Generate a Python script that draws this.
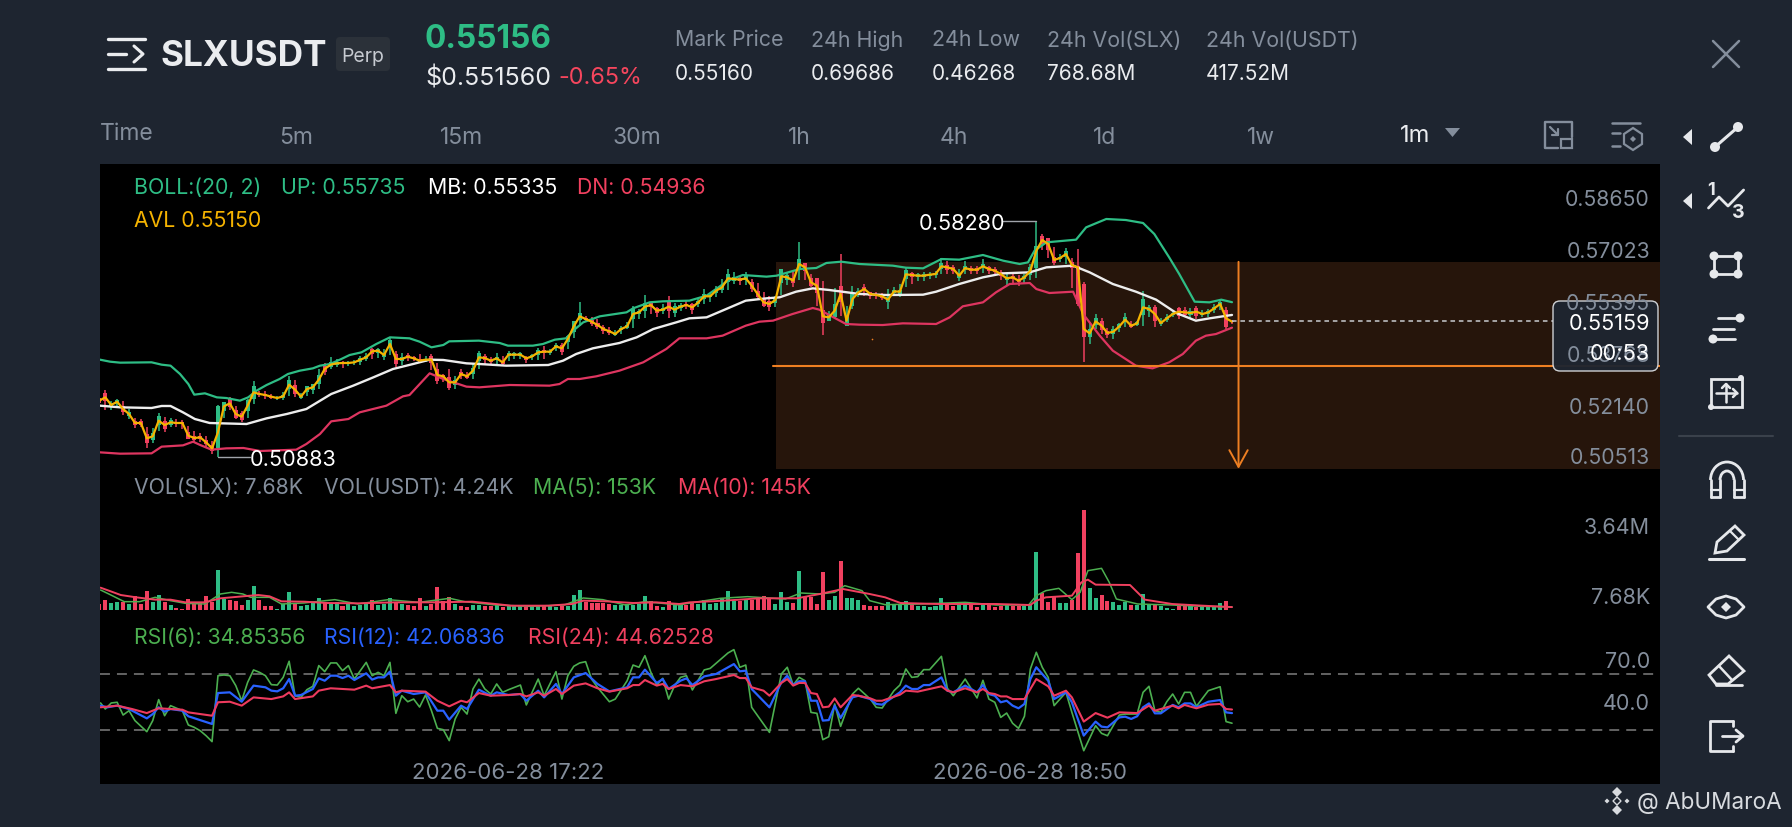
import numpy as np, pandas as pd, seaborn as sns
import matplotlib
matplotlib.use("Agg")
import matplotlib.pyplot as plt
from matplotlib.patches import Rectangle, Circle, FancyBboxPatch, Polygon, Arc

sns.set_theme(style="dark")
plt.rcParams['font.family'] = ['Inter', 'DejaVu Sans']

PAGE = '#1E2530'; GREEN = '#2EBD85'; RED = '#F0405F'; GREY = '#848E9C'; WHITE = '#EAECEF'
GOLD = '#F5B300'; ORANGE = '#EE7F22'; LGREEN = '#4CAF50'; BLUE = '#2962FF'

# ---------- candle data: index -1..190 ----------
avl = [.52648,.52752,.52512,.52616,.52386,.52230,.51948,.51948,.51467,.51530,.52021,.51885,.51968,.51948,.51948,.51550,
.51477,.51498,.51341,.51153,.51655,.52470,.52564,.52230,.52146,.52491,.52909,.52857,.52825,.52773,.52731,.52784,.53149,
.52993,.52773,.53014,.53066,.53306,.53640,.53776,.53818,.53829,.53829,.53850,.53933,.54006,.54194,.54215,.54079,.54424,
.53954,.53954,.54027,.53975,.53902,.53933,.53933,.53452,.53411,.53222,.53222,.53484,.53411,.53588,.54006,
.53985,.53902,.53975,.53849,.54090,.54090,.54090,.53975,.54038,.54163,.54184,.54184,.54351,.54288,.54581,.54978,.55292,
.55208,.55124,.55020,.54894,.54821,.54738,.54894,.54978,.55365,.55417,.55595,.55647,.55469,.55501,.55595,.55501,.55595,
.55647,.55574,.55731,.55919,.55919,.56096,.56201,.56483,.56462,.56441,.56483,.56253,.55992,.55731,.55678,.55804,.56546,
.56514,.56410,.56932,.56828,.56358,.56253,.55292,.55260,.55469,.55992,.55156,.55835,
.56044,.56148,.55991,.55960,.55918,.55814,.56075,.56064,.56608,.56587,.56566,.56566,.56597,.56618,.56859,.56827,.56775,
.56566,.56806,.56754,.56754,.56859,.56775,.56723,.56618,.56482,.56514,.56409,.56514,.56723,.57350,.57684,.57559,.57057,
.57120,.57245,.56900,.56827,.54894,.54758,.55134,.54998,.54769,.54810,.54978,.55187,.54998,.55072,.55573,.55521,.55364,
.55082,.55228,.55364,.55437,.55416,.55396,.55437,.55364,.55416,.55542,.55678,.55228,.55124]
body = [-15,
-25,15,12,-20,15,-15,-10,-30,22,30, -22,15,-8,-8,-20,-10,-10,-12,-18,125, 30,-25,-25,-20,35,40,-8,-8,-6,3,
10,30,-30,6,20,18,30,-20,15,10, -8,6,5,12,10,-15,12,10,25,-30, 12,-8,-6,-8,5,-20,-40,-10,-35,15,
-10,-8,18,25,-10,-8,8,-10,10,8, 8,-8,6,15,-8,6,8,-20,20,35, 20,-6,-12,-10,-12,-8,6,8,8,30,
10,25,-15,-15,10,-30,20,10,-5,-18, 10,15,6,12,15,25,12,-10,12,-20, -20,-20,-18,18,45,15,-15,30,-25,-25,
-45,-40,20,40,-50,35,45,10,-15,-10, -8,-8,15,10,12,30,-15,8,8,6, 8,18,-15,-10,15,15,-8,-8,12,-10,
-8,-12,10,-8,-10,8,25,60,-25,-35, -20,8,20,-20,-110,-100,25,20,-30,-15, 15,12,15,-10,8,50,12,-45,8,8,
8,-25,-15,12,-25,8,10,8,12,-55, -3]
wick_up = [12,
23,13,8,25,15,17,12,36,27,23, 26,15,12,9,30,22,15,20,23,82, 10,21,25,18,20,35,10,13,8,7,
14,27,30,13,10,10,32,20,24,15, 7,7,8,12,15,9,7,18,20,25, 20,13,8,22,12,19,38,7,42,20,
15,12,20,20,12,13,16,20,12,7, 9,8,7,15,18,8,12,16,12,12, 45,8,16,18,12,15,13,8,14,25,
10,38,8,10,17,33,22,13,13,13, 12,22,7,15,25,30,22,12,20,20, 35,32,25,13,22,15,30,70,10,25,
15,110,20,70,125,45,40,15,15,7, 8,10,32,15,23,21,8,8,10,7, 10,27,20,12,20,22,12,12,24,10,
10,12,13,10,17,10,20,90,18,20, 41,12,20,23,55,10,35,22,25,17, 18,12,20,15,8,50,12,27,17,13,
10,16,18,17,18,13,12,13,17,36, 5]
wick_dn = [12,
40,17,14,18,15,16,13,30,20,33, 22,15,13,18,8,11,15,15,17,75, 38,22,15,17,38,38,10,12,7,5,
10,35,23,7,22,20,30,20,13,12, 16,8,8,16,13,23,23,17,33,25, 20,15,7,5,6,33,27,18,23,20,
17,8,25,35,18,10,17,10,21,15, 15,14,13,25,22,12,16,22,30,38, 30,10,14,14,15,11,7,15,8,43,
20,35,27,20,13,37,23,15,12,20, 15,23,18,20,17,37,15,16,22,20, 15,15,23,22,60,25,20,50,40,15,
65,60,10,25,70,8,30,15,22,15, 12,13,28,15,17,39,27,18,18,13, 13,23,20,15,18,18,13,13,20,15,
10,20,24,17,17,17,30,45,32,45, 17,13,30,72,115,100,32,23,25,16, 22,18,23,8,9,57,25,40,8,12,
10,22,15,16,22,10,15,14,20,34, 7]
# large candles read directly as open, high, low, close
big_candles = {19:(.51153,.52512,.50883,.52491), 157:(.56800,.58280,.56500,.57500),
               164:(.56880,.57402,.55625,.55678), 165:(.56305,.56357,.53849,.54633)}
volume_k = [300,
498,349,415,415,299,714,299,930,415,747, 415,249,100,50,548,349,349,681,415,2009, 548,515,465,249,515,1212,515,216,183,50,
299,913,299,183,249,382,598,349,349,415, 216,299,183,249,299,498,249,299,581,349, 299,249,216,581,183,299,1145,465,664,299,
183,166,249,249,216,183,249,133,183,183, 183,133,183,216,183,216,133,183,216,747, 996,382,349,349,349,315,249,249,299,249,
299,681,465,216,133,465,249,249,249,415, 299,515,299,349,581,930,465,465,515,515, 548,681,548,299,880,415,349,1926,631,631,
299,1876,515,714,2424,581,581,515,266,216, 183,216,382,266,299,465,299,216,183,149, 183,581,299,183,249,382,249,133,249,299,
133,216,249,216,216,183,249,2872,847,382, 631,349,349,515,2822,4980,1079,581,764,465, 415,249,415,249,249,797,299,249,183,100,
50,199,183,183,133,133,133,133,332,448, 8]

# ---------- Bollinger bands ----------
up_t = [-.9,.8,2.5,7.8,9.5,11,12.6,14,15,16.8,18.8,20.4,22.7,24.1,25.5,27.2,29.4,30.8,32.8,35,36.2,37.9,39.8,41.2,43.2,45.7,48,51.3,53,55,57,58,63,
66.5,67.9,72.1,73.8,75.8,77.7,79.1,80.6,83.4,87.9,89,91.8,94,98.5,101.4,105,107.5,111.5,113.2,117.1,119.9,121.6,124.1,127.2,
132.8,135,137.9,141,144,148,151.4,154.2,155.6,156.7,158.7,163.7,165.4,168.8,172.1,175,176.9,179.4,181.1,183.7,186.2,188.2,190]
up_v = [.53933,.53870,.53839,.53850,.53776,.53745,.53484,.53170,.52836,.52878,.52752,.52731,.52648,.52752,.52961,.53139,.53327,.53484,.53588,.53661,.53745,.53797,.53954,.54079,.54163,.54424,.54633,.54602,.54497,.54320,.54393,.54508,.54529,
.54456,.54372,.54372,.54424,.54560,.54602,.54874,.55104,.55292,.55417,.55542,.55731,.55762,.55783,.55940,.56410,.56587,.56535,.56566,.56775,.56807,.56964,.57005,.56932,
.56880,.56817,.56796,.57088,.57068,.57214,.57036,.56932,.56984,.57350,.57611,.57695,.58081,.58343,.58311,.58217,.57872,.57141,.56618,.55751,.55730,.55814,.55735]
mb_t = [-.9,2.5,7.8,9.5,11,13.1,15.1,17.6,23.8,27.2,30.6,33.9,38.1,41.8,45.2,48.5,51.9,54.7,57,60.9,63.1,
67.6,74.7,77.2,79.4,82.2,86.7,89.6,92.4,96.3,98.5,101.4,104.7,108,111.5,113.7,116.5,119.3,122.1,127.2,
131.7,137.9,140.1,144,148,151.4,155.9,158.7,163.2,166,169.9,173.8,177.2,180.6,183.9,186.2,190]
mb_v = [.52491,.52439,.52418,.52481,.52481,.52282,.52073,.51948,.51916,.52094,.52230,.52386,.52857,.53118,.53379,.53640,.53797,.53933,.53923,.53818,.53797,
.53745,.53766,.53902,.54111,.54288,.54456,.54633,.54894,.55104,.55229,.55260,.55521,.55783,.55856,.55887,.56065,.56169,.56117,.55992,
.55960,.55970,.56064,.56305,.56514,.56639,.56671,.56827,.56880,.56670,.56305,.56064,.55814,.55396,.55155,.55228,.55335]
dn_t = [-.9,2.5,7.8,9.5,13.1,14.8,16,17.9,20.4,23.3,26.1,32.2,33.9,36.2,38.1,41,42.9,47.4,50.2,51.3,54.7,57,60.9,63.1,
68.2,74.9,76.6,78,80,82.8,86.7,90.7,94.6,96.8,101.4,104.1,108,110.3,112.6,115.9,119.3,120.4,124.9,127.2,
131.1,134.5,140.1,142.4,144.6,148,150.2,152.5,155.9,157,159.2,163.2,164.9,167.7,169.9,173.8,176.6,179.4,181.7,183.9,185.6,187.3,190]
dn_v = [.51028,.50986,.50997,.51206,.51247,.51362,.51258,.51112,.51153,.51164,.51070,.51112,.51289,.51603,.52000,.52073,.52282,.52491,.52784,.52825,.53505,.53327,.53087,.53066,
.53139,.53118,.53170,.53327,.53327,.53411,.53588,.53849,.54268,.54602,.54602,.54686,.54999,.55124,.55156,.55365,.55553,.55501,.55051,.55030,
.55019,.55072,.55051,.55260,.55605,.55730,.56044,.56305,.56336,.56148,.56023,.56064,.55364,.54685,.54215,.53744,.53661,.53849,.54110,.54528,.54685,.54737,.54936]

# ---------- volume moving averages (K) ----------
ma10_t = [-.8,.6,2.6,5.2,8.4,11,13.5,16.8,19.4,23.2,25.8,27.7,29.7,33.5,37.4,42.6,49,55.5,61.9,65.8,68.4,74.8,78.7,80.6,84.5,89,92.9,96.8,
98.6,104.4,110.2,116.6,120.5,124.4,128.9,131.5,134.1,140.5,150.2,156,157,158.6,163,164.6,165.7,167,172.8,175.3,179.9,185,190]
ma10_v = [1112,963,747,631,515,515,382,382,581,681,747,681,432,415,349,332,382,382,415,299,216,216,299,465,432,349,382,299,
382,465,581,581,797,1046,797,631,349,299,299,249,465,631,714,1378,1511,1262,1245,515,299,216,145]
ma5_t = [-.8,.6,3.2,5.8,8.4,11,13.5,16.8,19.4,21.3,23.2,24.5,27.7,29.7,33.5,38.7,42.6,47.7,52.9,58.1,60.6,65.8,71.6,77.4,80.6,83.9,87.7,91,96.8,
98.6,103.7,108.3,114.7,117.3,120.5,123,124.7,127.6,128.9,131.5,137.3,145,150.2,155.7,157,158.6,160.8,163,164.4,165.7,168,169.3,170.5,174.1,179.9,185,190]
ma5_v = [996,797,415,415,631,465,332,299,797,880,797,631,631,299,349,515,299,515,382,581,415,249,183,249,598,515,249,415,249,
349,581,664,548,847,797,880,1212,963,465,266,299,382,249,249,714,963,1079,515,880,1959,2075,1378,548,299,249,183,153]

# ---------- RSI ----------
rsi6_t = [-.8,0,1,2,3,4,5,7,8,9,10,11,13,14,15,16,17,18,19,20,21,22,23,24,25,26,27,28,29,30,31,32,33,34,35,36,37,38,39,40,41,42,44,45,46,47,48,49,50,51,52,53,54,55,56,57,58,59,60,61,62,63,64,65,66,67,68,70,71,73,74,76,77,78,79,80,81,82,83,85,86,88,89,90,91,92,93,94,95,96,97,98,
99,101,102,105,106,107,108,109,112,114,115,116,117,118,119,120,121,122,123,124,126,127,129,130,131,133,134,135,136,137,138,139,141,142,143,145,147,148,149,150,151,152,153,154,155,156,157,158,159,160,162,163,165,167,168,169,171,172,174,175,176,177,178,179,180,181,182,183,184,186,188,189,190]
rsi6_v = [49.3,45,49.3,49.8,40.7,43.8,36.7,28.8,36.7,51.7,40.2,47.4,43.8,33.6,31.9,29.5,25.9,21.7,68.8,69.3,68.8,61.7,50.9,64,72.9,71.2,68.8,62.4,62.1,67.6,79.1,54.5,53.3,58.8,61.2,76,71.7,77.9,77.9,72.4,76,66.4,78.3,68.8,71.2,68.8,78.3,41.9,54.5,50.2,52.1,46.4,55,43.8,31.2,30.2,22.4,37.9,46.2,41.4,59.3,66.4,59.3,55.7,62.9,56.9,58.8,62.1,47.9,66.4,54.5,71.7,52.1,68.8,75.5,77.9,78.8,66.4,60.5,50.2,52.1,65.2,76.4,74.8,83.1,71.2,62.1,66.9,52.1,61.7,67.6,68.8,
58.6,72.9,74,85,87.4,74.8,76.4,46.2,28.3,70,74.8,62.1,67.6,65.2,42.6,41.9,23.1,25.2,48.6,32.6,55.7,59.8,52.1,46.2,45.7,58.1,62.1,73.6,67.6,68.1,73.1,73.1,82.6,59.8,54.5,66.4,52.9,65.5,52.1,49.8,39,42.1,34.8,31.2,39.8,73.6,85.5,74.8,67.6,47.4,56.9,42.6,15.2,33.1,27.6,25.9,40.7,41.4,41.4,56.9,61.2,43.8,42.6,50.2,55.7,48.6,56.9,56.9,46.9,58.1,60.9,36,34.85]
rsi12_t = [-.8,.3,2,4,7,8,9,10,11,13,14,18,19,21,23,25,27,28,29,30,31,32,33,35,36,37,38,39,40,41,42,44,45,46,47,48,49,50,52,54,56,57,58,60,61,63,65,66,68,70,71,73,74,76,77,79,81,83,85,88,89,90,91,93,94,95,97,98,
99,101,103,106,107,108,109,112,114,115,116,117,118,119,120,121,122,123,124,126,127,129,130,131,134,135,136,137,138,139,141,142,143,145,147,148,149,150,151,152,153,154,155,156,157,158,159,160,162,163,165,167,168,169,171,172,173,174,175,176,177,178,180,181,182,183,184,186,188,189,190]
rsi12_v = [47.4,46.2,47.4,45,38.3,41.4,46.2,43.1,45,43.8,39.8,34.3,56.4,56.9,50.2,61.7,60.5,58.1,57.6,59.8,66.4,54.5,55,59.3,66.9,65.2,68.8,68.8,67.1,68.8,65.7,70.5,66,67.6,67.6,71.7,54.5,58.1,55.7,56.9,43.8,43.8,37.4,47.4,45,58.8,54.5,56.9,55,55.7,50.9,58.1,53.3,62.9,55.7,67.6,70.7,62.9,57.6,60.5,67.6,67.6,73.1,63.6,66.4,59.3,65.2,66.9,
62.1,68.3,70,77.1,71.9,72.4,59.3,46.2,64,68.8,62.1,64.8,64.8,50.9,50.9,36.7,37.1,47.4,38.6,53.3,54.5,52.1,48.6,48.1,56.9,61.7,59.3,59.3,62.1,62.1,67.6,58.1,56.9,61.7,56.9,62.1,55.7,54.5,49.8,50.9,47.4,45.5,48.6,66.4,74.8,70,65.2,52.1,56.9,49.8,26,36,32.4,31.9,39,39.5,37.9,39.8,46.2,49,41.9,41.9,47.9,46.2,49,49,46.2,50.2,51.4,42.6,42.07]
rsi24_t = [-.8,2,4.5,7,9,11,13,14,18,19,21,23,25,28,30,31,32,35,36,38,42,44,45,48,49,50,54,56,58,60,61,63,65,68,70,71,73,74,76,77,79,81,83,85,88,89,90,91,93,94,95,97,
99,101,103,106,107,108,109,111,112,114,115,116,117,118,119,120,121,122,123,124,126,127,129,130,131,134,135,137,141,142,143,145,147,148,149,150,151,152,153,155,156,157,159,160,162,163,165,167,169,171,174,176,177,180,181,182,184,186,188,189,190]
rsi24_v = [46.2,47.4,45,42.1,45.5,45,44.5,42.6,40.2,49.8,50.2,47.4,53.3,52.1,54,56.9,52.1,54,58.1,59.8,58.8,61.7,59.8,62.1,56.9,58.1,57.4,50.9,46.9,50.9,49.8,56.4,54.5,55,55.7,54,56.9,54.5,59.3,55.7,61.7,63.3,59.8,57.4,59.8,62.1,62.1,65.7,61.7,62.9,59.3,62.1,
61.2,64.8,66.4,69.3,67.1,67.1,60.5,58.1,54.5,63.6,66.4,61.7,63.6,63.6,56.4,55.7,46.2,46.7,52.6,46.2,55,54.5,52.6,50.9,50.9,55.2,58.1,57.4,61.2,58.1,56.9,59.8,56.9,59.3,56.4,55.7,54,54,52.1,52.1,59.3,66.4,61.2,54.5,58.1,53.3,36,42.1,38.8,42.6,42.1,47.4,43.8,47.4,45.5,47.9,45.5,48.1,48.6,45,44.63]

# ---------- axis text and drawing levels ----------
price_ticks = ['0.58650','0.57023','0.55395','0.53768','0.52140','0.50513']
time_labels = ['2026-06-28 17:22','2026-06-28 18:50']
time_idx = [68, 156]
last_price = 0.55159; high_price = 0.58280; low_price = 0.50883
zone_top = 0.5700; zone_bottom = 0.5051; zone_line = 0.53745
zone_start = 113.1; arrow_idx = 191.1

idx = np.arange(-1, 191)
avl_a = np.array(avl); b_a = np.array(body)*1e-4
opens = avl_a - b_a/2; closes = avl_a + b_a/2
highs = avl_a + np.array(wick_up)*1e-4; lows = avl_a - np.array(wick_dn)*1e-4
for k,(o,h,l,c) in big_candles.items():
    opens[k+1],highs[k+1],lows[k+1],closes[k+1] = o,h,l,c
is_up = closes >= opens
ccol = np.where(is_up, GREEN, RED)

# ---------- figure layout, in picture pixels ----------
W,H = 1792,828
fig = plt.figure(figsize=(W/100,H/100), dpi=100, facecolor=PAGE)
L,R = 100,1660
def box(top,bot,z=1):
    a = fig.add_axes([L/W, 1-bot/H, (R-L)/W, (bot-top)/H], zorder=z)
    a.patch.set_alpha(0); a.set_axis_off(); return a
bg = box(165,785,0); bg.patch.set_alpha(1); bg.set_axis_on(); bg.patch.set_facecolor('black')
bg.set_xticks([]); bg.set_yticks([]); [s.set_visible(False) for s in bg.spines.values()]
XLIM = ((L-105.3)/5.93, (R-105.3)/5.93)

main = box(165,478,2); vol = box(490,611,2); rsi = box(625,785,2)
main.set_ylim(0.5828-(478-222)/3190, 0.5828-(165-222)/3190)

# zone
main.add_patch(Rectangle((zone_start, zone_bottom), XLIM[1]-zone_start, zone_top-zone_bottom, fc='#26150B', ec='none', lw=0, zorder=1))
main.plot([zone_start-.5, XLIM[1]], [zone_line, zone_line], color=ORANGE, lw=1.5, zorder=6)
main.plot([129.3],[0.5458], marker='o', ms=1.2, mew=0, color=ORANGE, zorder=2)

# candles
main.vlines(idx, lows, highs, colors=ccol, lw=1.1, zorder=3)
main.bar(idx, np.maximum(np.abs(closes-opens),0.00025), bottom=np.minimum(opens,closes), width=0.68, color=ccol, edgecolor='none', linewidth=0, zorder=3)

def line(ax,t,v,c,lw,z=5):
    sns.lineplot(x=t, y=v, ax=ax, color=c, linewidth=lw, estimator=None, sort=False, errorbar=None, zorder=z, legend=False)
line(main,up_t,up_v,GREEN,1.6); line(main,dn_t,dn_v,'#DE3560',1.6); line(main,mb_t,mb_v,'#EDEDED',1.7)
line(main,idx,avl,GOLD,1.6,7)
main.plot([idx[-1], XLIM[1]-18],[last_price,last_price], color='#C8CBD0', lw=1.1, dashes=(3,2.5), zorder=7)
main.annotate('', xy=(arrow_idx,zone_bottom), xytext=(arrow_idx,zone_top),
              arrowprops=dict(arrowstyle='->,head_length=1.0,head_width=0.55', color=ORANGE, lw=1.4, shrinkA=0, shrinkB=0), zorder=8)
main.plot([19,19+5.4],[low_price,low_price], color='#A0A4AA', lw=1, zorder=6)
main.plot([157,157-5.6],[high_price,high_price], color='#A0A4AA', lw=1, zorder=6)
main.set_xlim(XLIM); main.set_ylabel(''); main.set_xlabel('')

# volume
vdf = pd.DataFrame({'t':idx,'v':volume_k,'side':np.where(is_up,'up','down')})
sns.barplot(data=vdf, x='t', y='v', hue='side', palette={'up':GREEN,'down':RED}, dodge=False, native_scale=True,
            width=0.68, legend=False, ax=vol, saturation=1, edgecolor='none', linewidth=0, zorder=3)
line(vol,ma5_t,ma5_v,LGREEN,1.1); line(vol,ma10_t,ma10_v,RED,1.4)
vol.set_xlim(XLIM); vol.set_ylim(0,(611-490)*49.8); vol.set_axis_off()

# RSI
rsi.set_ylim(70-(785-675)/1.4, 70-(625-675)/1.4)
for lev in (70,30):
    rsi.plot([XLIM[0],(1656-105.3)/5.93],[lev,lev], color='#7E7E7E', lw=1.1, dashes=(6.5,4.6), zorder=2)
line(rsi,rsi6_t,rsi6_v,LGREEN,1.2); line(rsi,rsi12_t,rsi12_v,BLUE,1.6); line(rsi,rsi24_t,rsi24_v,'#EE3A5E',1.5)
rsi.set_xlim(XLIM); rsi.set_axis_off()

# ---------- overlay in pixels ----------
ov = fig.add_axes([0,0,1,1], zorder=10); ov.set_xlim(0,W); ov.set_ylim(H,0); ov.patch.set_alpha(0); ov.set_axis_off()
under = fig.add_axes([0,0,1,1], zorder=1.5); under.set_xlim(0,W); under.set_ylim(H,0); under.patch.set_alpha(0); under.set_axis_off()
under.text(914,297,'BINANCE',fontsize=28,fontweight='bold',color='#2C2A27',ha='center',va='center')
under.add_patch(Polygon([(778,296),(792,282),(806,296),(792,310)],fc='#2A2724',ec='none'))

def T(x,y,s,size=15.3,c=WHITE,ha='left',w='normal',**k):
    return ov.text(x,y+1.5,s,fontsize=size,color=c,ha=ha,va='center',fontweight=w,**k)
def LN(xs,ys,c=WHITE,lw=1.8,**k):
    ov.plot(xs,ys,color=c,lw=lw,solid_capstyle='round',**k)

# header
for y,x2 in ((40,145),(70,145)): LN([108,x2],[y,y],lw=2.4)
LN([108,126],[55,55],lw=2.4); LN([134,143,134],[47,55,63],lw=2.2)
T(160,55,'SLXUSDT',25.3,w='bold')
ov.add_patch(FancyBboxPatch((336,38),54,34,boxstyle='round,pad=0,rounding_size=4',fc='#2B3139',ec='none'))
T(363,55,'Perp',14,'#C7CBD1',ha='center')
T(425,38,'0.55156',22.8,GREEN,w='bold')
T(425,77,'$0.551560',18); T(558,77,'-0.65%',16.8,'#F6465D')
hdr = [(675,'Mark Price','0.55160'),(811,'24h High','0.69686'),(932,'24h Low','0.46268'),(1047,'24h Vol(SLX)','768.68M'),(1206,'24h Vol(USDT)','417.52M')]
for x,a,b in hdr:
    T(x,39,a,15.4,GREY); T(x,72,b,15)
LN([1713,1739],[42,68],GREY,1.8); LN([1713,1739],[68,42],GREY,1.8)

# tabs
T(100,133,'Time',16.5,GREY)
for x,s in ((279,'5m'),(440,'15m'),(612,'30m'),(788,'1h'),(940,'4h'),(1093,'1d'),(1247,'1w')):
    T(x,136,s,16.5,GREY)
T(1400,134,'1m',17)
ov.add_patch(Polygon([(1445,129),(1460,129),(1452.5,138)],fc=GREY,ec='none'))
# header icons
LN([1558,1545,1545,1572,1572],[149,149,123,123,138],GREY,1.7)
ov.add_patch(Rectangle((1561,140),11,9,fc='none',ec=GREY,lw=1.6))
LN([1550,1558],[128,136],GREY,1.6); LN([1552,1558,1558],[136,136,130],GREY,1.6)
LN([1612,1640],[124,124],GREY,1.8); LN([1612,1620],[134,134],GREY,1.8); LN([1612,1620],[147,147],GREY,1.8)
ov.add_patch(Polygon([(1633,129),(1642,135),(1642,145),(1633,151),(1624,145),(1624,135)],fc='none',ec=GREY,lw=1.6))
ov.add_patch(Polygon([(1633,137),(1636,140),(1633,143),(1630,140)],fc=GREY,ec='none'))

# sidebar
SW = '#E6E8EB'
for y in (138,202):
    ov.add_patch(Polygon([(1683,y),(1692,y-8),(1692,y+8)],fc=SW,ec='none'))
def dot(x,y,r=5): ov.add_patch(Circle((x,y),r,fc=SW,ec='none'))
LN([1715,1738],[148,128],SW,2.2); dot(1715,148); dot(1738,128)
LN([1708.5,1719,1728,1743.6],[209,198,207,191],SW,2); T(1711.5,189,'1',13,SW,ha='center',w='bold'); T(1738,212,'3',14,SW,ha='center',w='bold')
for x,y in ((1714,257),(1738,257),(1714,275),(1738,275)): dot(x,y,4.5)
ov.add_patch(Rectangle((1714,257),24,18,fc='none',ec=SW,lw=2))
LN([1718,1738],[319,319],SW,2); dot(1740,319,4.5); LN([1713,1734],[330,330],SW,2); LN([1713,1735],[340,340],SW,2); dot(1713,340,4.5)
ov.add_patch(Rectangle((1711,380),31,28,fc='none',ec=SW,lw=2)); dot(1741,379,3); dot(1711,408,3)
LN([1726,1726],[385,403],SW,1.8); LN([1716,1737],[394,394],SW,1.8); LN([1722,1726,1730],[389,385,389],SW,1.8); LN([1733,1737,1733],[390,394,398],SW,1.8)
LN([1679,1773],[437,437],'#3A414B',1.5)
ov.add_patch(Arc((1727,481),33,36,theta1=180,theta2=360,ec=SW,lw=2)); ov.add_patch(Arc((1727,481),14,18,theta1=180,theta2=360,ec=SW,lw=2))
for x in (1710.5,1743.5,1720,1734): LN([x,x],[481,498],SW,2)
LN([1710.5,1720],[498,498],SW,2); LN([1734,1743.5],[498,498],SW,2); LN([1710.5,1720],[491,491],SW,1.6); LN([1734,1743.5],[491,491],SW,1.6)
ov.add_patch(Polygon([(1715,554),(1717,543),(1735,527),(1744,536),(1727,552)],fc='none',ec=SW,lw=2)); LN([1709,1744],[560,560],SW,2.2)
LN([1730,1739],[532,541],SW,1.6)
ov.add_patch(Polygon([(1708,608),(1716,600),(1726,597),(1736,600),(1744,608),(1736,616),(1726,619),(1716,616)],fc='none',ec=SW,lw=2,joinstyle='round'))
ov.add_patch(Polygon([(1726,603),(1731,608),(1726,613),(1721,608)],fc=SW,ec='none'))
ov.add_patch(Polygon([(1709,676),(1729,657),(1744,672),(1728,685),(1716,685)],fc='none',ec=SW,lw=2)); LN([1716,1742],[686,686],SW,2); LN([1719,1732],[667,681],SW,1.8)
LN([1733,1710,1710,1733],[722,722,752,752],SW,2); LN([1733,1733],[722,727],SW,2); LN([1733,1733],[747,752],SW,2)
LN([1722,1742],[737,737],SW,2); LN([1736,1743,1736],[731,737,743],SW,2)

# chart legends
T(134,186,'BOLL:(20, 2)',15.3,GREEN); T(281,186,'UP: 0.55735',15.3,GREEN); T(427.5,186,'MB: 0.55335',15.3,'white'); T(577,186,'DN: 0.54936',15.3,RED)
T(134,220,'AVL 0.55150',15.3,GOLD)
T(134,487,'VOL(SLX): 7.68K',15.3,GREY); T(324,487,'VOL(USDT): 4.24K',15.3,GREY); T(533,487,'MA(5): 153K',15.3,LGREEN); T(678,487,'MA(10): 145K',15.3,RED)
T(134,637,'RSI(6): 34.85356',15.3,LGREEN); T(324,637,'RSI(12): 42.06836',15.3,BLUE); T(528,637,'RSI(24): 44.62528',15.3,RED)

# axis text
for y,s in zip((198.7,250.7,302.7,354.7,406.7,457),price_ticks):
    T(1650,y,s,15.3,GREY,ha='right')
T(1650,527,'3.64M',15.5,GREY,ha='right'); T(1650,597,'7.68K',15.5,GREY,ha='right')
T(1650,661,'70.0',15.5,GREY,ha='right'); T(1650,703,'40.0',15.5,GREY,ha='right')
for i,s in zip(time_idx,time_labels):
    T(105.3+5.93*i,772,s,16,GREY,ha='center')
T(919,223,'0.58280',15.6,'white'); T(250,459,'0.50883',15.6,'white')

# last price box
ov.add_patch(FancyBboxPatch((1553,302),105,70,boxstyle='round,pad=0,rounding_size=7',fc='#1E2530',alpha=.96,ec='#D5D8DC',lw=1))
T(1650,323,'0.55159',15.6,'white',ha='right'); T(1650,353,'00:53',15.6,'white',ha='right')

# watermark
for x,y,r in ((1617,793,5),(1617,811,5),(1607,802,2.5),(1627,802,2.5)):
    ov.add_patch(Polygon([(x,y-r),(x+r,y),(x,y+r),(x-r,y)],fc='#D8DBDF',ec='none'))
ov.add_patch(Polygon([(1617,798),(1621,802),(1617,806),(1613,802)],fc='none',ec='#D8DBDF',lw=1))
T(1637,802,'@ AbUMaroA',16.2,'#D8DBDF')

fig.savefig('out.png', dpi=100, facecolor=PAGE)
